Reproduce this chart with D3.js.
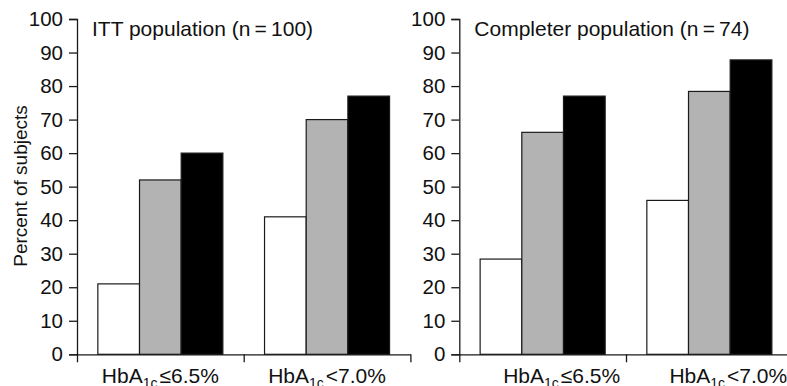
<!DOCTYPE html>
<html>
<head>
<meta charset="utf-8">
<script src="https://cdn.jsdelivr.net/npm/d3@7"></script>
<style>
  body { margin: 0; background: #fff; }
  svg { display: block; font-family: "Liberation Sans", Arial, sans-serif; }
</style>
</head>
<body>
<div id="chart"></div>
<script>
// data
var catMain = ["HbA", "HbA"];
var catSub = ["1c", "1c"];
var catThresh = ["\u22646.5%", "<7.0%"];
var seriesKeys = ["white", "gray", "black"];
var seriesFill = ["#ffffff", "#b3b3b3", "#000000"];
var yTicks = [0, 10, 20, 30, 40, 50, 60, 70, 80, 90, 100];

var ittWhite = [21, 41];
var ittGray = [52, 70];
var ittBlack = [60, 77];

var compWhite = [28.4, 45.9];
var compGray = [66.2, 78.4];
var compBlack = [77.0, 87.8];

// layout per panel (labels of the right panel sit a bit to the right in the original)
var panels = [
  { title: "ITT population (n\u2009=\u2009100)", values: [ittWhite, ittGray, ittBlack], x0: 77, labelShift: 0 },
  { title: "Completer population (n\u2009=\u200974)", values: [compWhite, compGray, compBlack], x0: 459.3, labelShift: 19 }
];

var width = 787, height = 386;
var stroke = "#1a1a1a";
var catWidth = 166.7;

var svg = d3.select("#chart").append("svg")
  .attr("width", width)
  .attr("height", height);

var y = d3.scaleLinear().domain([0, 100]).range([354.3, 19]);

panels.forEach(function(p) {
  var cats = [0, 1];
  var x = d3.scaleBand()
    .domain(cats)
    .range([p.x0, p.x0 + catWidth * 2])
    .padding(0);
  var xs = d3.scaleBand()
    .domain(seriesKeys)
    .range([0, x.bandwidth()])
    .paddingInner(0)
    .paddingOuter(0.5);

  var g = svg.append("g");

  // bars
  seriesKeys.forEach(function(k, si) {
    g.selectAll("rect.s" + si)
      .data(p.values[si])
      .enter()
      .append("rect")
        .attr("x", function(d, i) { return x(i) + xs(k); })
        .attr("y", function(d) { return y(d); })
        .attr("width", xs.bandwidth())
        .attr("height", function(d) { return y(0) - y(d); })
        .attr("fill", seriesFill[si])
        .attr("stroke", stroke)
        .attr("stroke-width", 1.2);
  });

  // y axis
  var yAxis = d3.axisLeft(y)
    .tickValues(yTicks)
    .tickSize(8)
    .tickPadding(6);
  var ya = g.append("g")
    .attr("transform", "translate(" + p.x0 + ",0)")
    .call(yAxis);
  ya.select(".domain").attr("stroke", stroke).attr("stroke-width", 1.3);
  ya.selectAll(".tick line").attr("stroke", stroke).attr("stroke-width", 1.3);
  ya.selectAll("text")
    .attr("font-size", 20.5)
    .attr("fill", "#111")
    .style("font-family", "Liberation Sans, Arial, sans-serif");

  // x axis with boundary ticks
  var xl = d3.scaleLinear().domain([0, 2]).range([p.x0, p.x0 + catWidth * 2]);
  var xAxis = d3.axisBottom(xl)
    .tickValues([0, 1, 2])
    .tickFormat("")
    .tickSize(8)
    .tickSizeOuter(0);
  var xa = g.append("g")
    .attr("transform", "translate(0," + y(0) + ")")
    .call(xAxis);
  xa.select(".domain").attr("stroke", stroke).attr("stroke-width", 1.3);
  xa.selectAll(".tick line").attr("stroke", stroke).attr("stroke-width", 1.3);

  // category labels
  cats.forEach(function(c) {
    var t = g.append("text")
      .attr("x", x(c) + x.bandwidth() / 2 + p.labelShift)
      .attr("y", 383)
      .attr("text-anchor", "middle")
      .attr("font-size", 21)
      .attr("fill", "#111");
    t.append("tspan").text(catMain[c]);
    t.append("tspan").attr("font-size", 14).attr("dy", 5).text(catSub[c]);
    t.append("tspan").attr("dy", -5).attr("dx", 2).text(catThresh[c]);
  });

  // panel title
  g.append("text")
    .attr("x", p.x0 + 15)
    .attr("y", 36)
    .attr("font-size", 21)
    .attr("fill", "#111")
    .text(p.title);
});

// y label
svg.append("text")
  .attr("transform", "translate(27,186) rotate(-90)")
  .attr("text-anchor", "middle")
  .attr("font-size", 19)
  .attr("fill", "#111")
  .text("Percent of subjects");
</script>
</body>
</html>
